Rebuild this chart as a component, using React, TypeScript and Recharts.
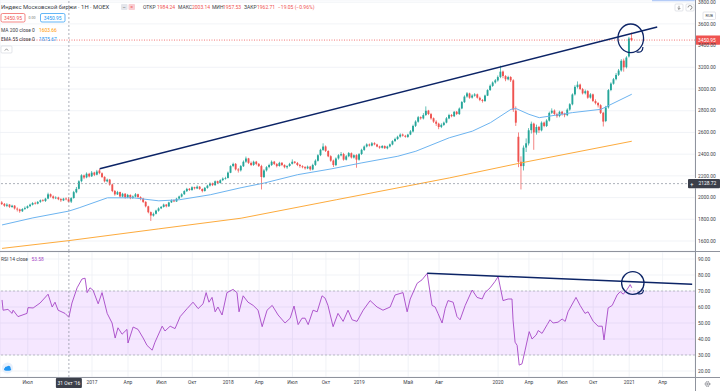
import React from 'react';
import {
  ComposedChart, Bar, Line, XAxis, YAxis, CartesianGrid,
  ReferenceLine, ReferenceArea, ReferenceDot,
} from 'recharts';

// ---------- Weekly candles, MOEX index (index 0 = week of 2 May 2016) ----------
const opens = [1955,1942,1924,1936,1913,1926,1898,1891,1874,1896,
1904,1921,1934,1951,1944,1961,1976,1969,1991,2031,
2011,1994,2001,1986,1974,1991,1984.24,1963,1996,2049,
2081,2151,2204,2186,2219,2196,2231,2211,2250,2224,
2191,2149,2166,2121,2061,2029,2051,2009,2036,2001,
2024,1996,2009,2031,2004,1991,1961,1919,1866,1834,
1851,1879,1901,1914,1936,1919,1956,1976,1964,1991,
2009,2031,2059,2081,2069,2096,2084,2101,2079,2061,
2089,2111,2131,2114,2151,2134,2161,2174,2181,2229,
2291,2311,2259,2251,2289,2331,2361,2319,2301,2331,
2311,2290,2189,2251,2281,2299,2331,2309,2291,2321,
2301,2279,2291,2311,2331,2319,2301,2289,2281,2269,
2286,2259,2301,2339,2391,2439,2471,2429,2381,2341,
2299,2361,2389,2401,2349,2381,2409,2369,2391,2349,
2401,2439,2471,2489,2479,2501,2489,2471,2459,2476,
2454,2471,2489,2521,2539,2561,2581,2569,2559,2581,
2609,2661,2699,2741,2729,2761,2801,2769,2731,2699,
2681,2651,2669,2691,2729,2761,2749,2791,2769,2821,
2879,2931,2959,2921,2939,2951,2919,2899,2889,2939,
2991,3029,3061,3079,3111,3161,3119,3089,3111,3080,
2800,2560,2330,2290,2461,2499,2621,2681,2599,2651,
2619,2691,2659,2709,2781,2801,2769,2751,2791,2771,
2759,2811,2859,2951,3019,3041,2999,2961,2981,2921,
2951,2889,2871,2851,2781,2705,2831,2991,3049,3091,
3131,3171,3262,3201,3300,3470];

const highs = [1968,1950,1948,1940,1934,1930,1910,1898,1902,1918,
1928,1944,1958,1962,1968,1982,1986,1998,2045,2038,
2020,2012,2008,1995,1998,2002,2003.14,2004,2062,2098,
2160,2215,2212,2232,2228,2245,2238,2255,2265,2232,
2196,2175,2172,2128,2070,2062,2055,2044,2040,2034,
2030,2020,2042,2036,2012,1998,1966,1925,1872,1862,
1888,1910,1922,1944,1940,1962,1984,1982,1998,2018,
2040,2068,2090,2088,2104,2100,2112,2106,2085,2098,
2118,2140,2138,2158,2156,2168,2186,2192,2240,2298,
2322,2318,2272,2300,2342,2378,2366,2332,2340,2338,
2318,2302,2262,2290,2312,2342,2338,2318,2330,2326,
2306,2298,2320,2352,2336,2328,2310,2298,2290,2295,
2292,2312,2352,2400,2450,2500,2480,2436,2390,2350,
2370,2400,2420,2412,2392,2420,2416,2398,2400,2410,
2450,2480,2500,2498,2512,2510,2496,2478,2484,2480,
2478,2498,2528,2552,2570,2592,2590,2578,2588,2622,
2672,2712,2752,2748,2778,2840,2808,2780,2738,2712,
2690,2684,2700,2742,2772,2770,2798,2798,2830,2890,
2942,2972,2966,2952,2962,2958,2930,2908,2948,2998,
3042,3070,3092,3125,3215,3170,3128,3122,3118,3090,
2840,2600,2380,2480,2545,2640,2700,2690,2672,2660,
2702,2700,2722,2792,2822,2812,2782,2800,2798,2782,
2822,2870,2960,3035,3070,3050,3010,2995,2990,2962,
2958,2905,2880,2860,2790,2845,3000,3062,3102,3148,
3185,3275,3280,3302,3480,3520];

const lows = [1932,1915,1912,1905,1906,1890,1872,1860,1868,1886,
1898,1912,1928,1936,1938,1952,1962,1960,1985,2000,
1985,1986,1976,1960,1968,1975,1957.53,1950,1990,2040,
2075,2140,2170,2178,2186,2190,2198,2205,2215,2180,
2140,2140,2110,2050,2018,2024,1998,2002,1990,1994,
1985,1988,2002,1996,1975,1950,1910,1855,1785,1825,
1845,1870,1894,1908,1910,1915,1950,1958,1960,1985,
2002,2025,2052,2062,2064,2075,2078,2072,2048,2055,
2082,2102,2106,2110,2126,2130,2152,2166,2176,2225,
2280,2250,2230,2240,2282,2320,2310,2290,2292,2298,
2282,2075,2180,2240,2270,2292,2300,2278,2285,2290,
2270,2265,2284,2305,2312,2290,2275,2270,2258,2262,
2248,2252,2292,2332,2382,2430,2420,2372,2330,2282,
2290,2350,2380,2340,2342,2372,2360,2360,2275,2340,
2392,2430,2462,2470,2472,2482,2464,2450,2452,2448,
2445,2462,2482,2512,2532,2552,2562,2552,2550,2575,
2600,2650,2690,2718,2720,2752,2760,2718,2688,2660,
2630,2640,2660,2684,2722,2740,2742,2760,2762,2814,
2872,2920,2910,2912,2930,2912,2888,2875,2882,2935,
2982,3020,3050,3068,3100,3100,3072,3080,3065,2790,
2660,2280,2075,2250,2420,2480,2590,2440,2580,2595,
2610,2648,2650,2700,2770,2760,2735,2740,2755,2740,
2750,2800,2850,2940,3005,2990,2950,2950,2910,2912,
2880,2858,2830,2770,2655,2695,2820,2980,3040,3080,
3120,3160,3160,3190,3290,3440];

const closes = [1940,1925,1935,1915,1925,1900,1890,1875,1895,1905,
1920,1935,1950,1945,1960,1975,1970,1990,2030,2010,
1995,2000,1985,1975,1990,1984,1962.71,1995,2050,2080,
2150,2205,2185,2220,2195,2230,2210,2240,2225,2190,
2150,2165,2120,2060,2030,2050,2010,2035,2000,2025,
1995,2010,2030,2005,1990,1960,1920,1865,1835,1850,
1880,1900,1915,1935,1920,1955,1975,1965,1990,2010,
2030,2060,2080,2070,2095,2085,2100,2080,2060,2090,
2110,2130,2115,2150,2135,2160,2175,2180,2230,2290,
2310,2260,2250,2290,2330,2360,2320,2300,2330,2310,
2290,2190,2250,2280,2300,2330,2310,2290,2320,2300,
2280,2290,2310,2330,2320,2300,2290,2280,2270,2285,
2260,2300,2340,2390,2440,2470,2430,2380,2340,2300,
2360,2390,2400,2350,2380,2410,2370,2390,2350,2400,
2440,2470,2490,2480,2500,2490,2470,2460,2475,2455,
2470,2490,2520,2540,2560,2580,2570,2560,2580,2610,
2660,2700,2740,2730,2760,2800,2770,2730,2700,2680,
2650,2670,2690,2730,2760,2750,2790,2770,2820,2880,
2930,2960,2920,2940,2950,2920,2900,2890,2940,2990,
3030,3060,3080,3110,3160,3120,3090,3110,3080,2810,
2690,2330,2290,2460,2500,2620,2680,2600,2650,2620,
2690,2660,2710,2780,2800,2770,2750,2790,2770,2760,
2810,2860,2950,3020,3040,3000,2960,2980,2920,2950,
2890,2870,2850,2780,2700,2830,2990,3050,3090,3130,
3170,3260,3200,3290,3465,3450.95];

// ---------- Indicator readings ----------
const emaIdx = [0,12,26,30,41,51,61,69,81,93,102,115,128,140,154,161,174,183,190,198,200,205,209,222,233,245];
const emaVals = [1748,1813,1875.67,1906,1998,1998,1970,1980,2026,2091,2134,2211,2264,2320,2381,2427,2551,2612,2690,2813,2820,2767,2736,2783,2813,2952];

const maIdx = [0,26,61,93,130,174,202,245];
const maVals = [1532,1603.66,1712,1810,1980,2181,2320,2519];

const rsiIdx = [0,0.4,2.3,3.9,4.3,6.2,9.7,10.1,12.1,14.8,
17.9,19.5,20.6,21.8,24.5,26,27.2,29.2,31.1,32.3,
33.1,34.2,35.4,37.4,38.9,40.9,42.8,44,45.1,46.7,
48.6,49,51,52.9,54.9,56.4,58.4,59.5,62.3,63.4,
65.4,67.3,69.3,72,74.3,76.3,78.2,79.4,80.5,81.7,
82.9,84,85.6,87.5,89.9,91.4,92.2,93.8,95.7,97.7,
99.6,101.2,103.1,105.1,107.4,110.1,112.1,113.6,115.2,116.7,
117.9,119.1,121,122.6,124.5,125.7,126.8,128.8,130.7,132.7,
134.6,136.2,138.1,140.5,143.2,145.9,148.2,151,152.9,156,
157.6,158.8,161.5,163.4,165.4,167.3,168.5,169.6,171.2,172.4,
173.5,175.5,177,178.2,180.2,182.9,184.8,186.8,187.9,189.9,
191.8,193,194.9,196.9,198.4,198.8,199.6,200.4,201.2,202.3,
203.5,205.1,206.2,207.8,208.6,210.1,212.1,213.2,214.4,216.3,
217.9,219.1,220.2,223.3,224.9,226.8,228,230,231.9,233.5,
234.2,235.8,237.4,239.3,240.5,241.7,243.2,244.4,245];
const rsiVals = [64.4,58,58.5,56,58,54,56,59.6,59.4,62.5,
68,60,63,58,56,53.58,62.5,72,77.5,78,
69,72,70.5,62,69,56,50,40.6,47,43,
46,37.5,47.5,46,40.6,36,33,38,48,45,
48,46.5,54,59,63,59,62,69,63,66,
57,60,55,69,71,69,57,67,63,61,
58,47.7,58,61,55,50,53,60.6,49,53,
53,49,58,57,67,65.5,61,47.7,56,51,
58,52,51,58,64,60,58,60,67.5,69,
57,65,74.8,77,81,61,60,56,50,59,
64,63,54,52,61,70.6,66,65,69,72,
76,79,64,65,65,52,38,36,23.7,24.5,
33,44.6,40,42.5,45.3,43.5,49,52,50,50.5,
52.5,51,57,66,61,56,57,51,48,48,
39.4,59.4,61,67.5,69.6,68,71,74,72];

// ---------- Axis ticks / labels ----------
const xTickIdx = [10,22,35,49,62,74,88,100,113,126,139,158,170,193,205,218,230,244,257];
const xTickLabels = ['Июл','','2017','Апр','Июл','Окт','2018','Апр','Июл','Окт','2019','Май','Авг','2020','Апр','Июл','Окт','2021','Апр'];
const priceTicks = [1600,1800,2000,2200,2400,2600,2800,3000,3200,3400,3600,3800];
const rsiTicks = [20,30,40,50,60,70,80,90];

// ---------- Annotations ----------
const lastPrice = 3450.95;
const crossIdx = 26;
const crossPrice = 2128.72;
const crossLabel = "31 Окт '16";
const priceTrend = [{ x: 38, y: 2265 }, { x: 254.9, y: 3571 }];
const rsiTrend = [{ x: 165.4, y: 81.1 }, { x: 268.5, y: 74.2 }];
const priceCircle = { x: 244.6, y: 3467 };
const rsiCircle = { x: 245.4, y: 75 };

// ---------- Layout constants ----------
const X_MIN = -0.8, X_MAX = 269.6;
const P_MIN = 1508, P_MAX = 3820;
const R_MIN = 16.25, R_MAX = 94.375;

const FONT = 'Roboto, "Noto Sans", sans-serif';
const GREEN = '#26a69a';
const RED = '#ef5350';
const NAVY = '#0c2466';
const GRID = '#edf0f5';
const AXIS = '#8f939d';
const TXT = '#3b3e48';
const CROSS = '#8a8f9c';
const ORANGE = '#fdab3d';
const EMA_BLUE = '#6db4f0';
const RSI_COL = '#a646c6';

const candles = closes.map((c, i) => ({ i, o: opens[i], h: highs[i], l: lows[i], c, range: [lows[i], highs[i]] }));
const emaData = emaIdx.map((i, k) => ({ i, v: emaVals[k] }));
const maData = maIdx.map((i, k) => ({ i, v: maVals[k] }));
const rsiData = rsiIdx.map((i, k) => ({ i, v: rsiVals[k] }));

const Candle = (props: any) => {
  const { x, y, width, height, payload } = props;
  if (!payload || x == null || y == null) return null;
  const { o, h, l, c } = payload;
  const top = Math.min(y, y + height);
  const hh = Math.abs(height);
  const k = h - l === 0 ? 0 : hh / (h - l);
  const yO = top + (h - o) * k;
  const yC = top + (h - c) * k;
  const cx = x + width / 2;
  const col = c >= o ? GREEN : RED;
  const bt = Math.min(yO, yC);
  const bh = Math.max(0.7, Math.abs(yO - yC));
  return (
    <g>
      <rect x={cx - 0.35} y={top} width={0.7} height={hh} fill={col} />
      <rect x={cx - 0.95} y={bt} width={1.9} height={bh} fill={col} />
    </g>
  );
};

const AxisTick = (props: any) => {
  const { x, y, payload } = props;
  return (
    <text x={x} y={y} dy={1.7} fontSize={4.9} fill={TXT} fontFamily={FONT} textAnchor="start">
      {Number(payload.value).toFixed(2)}
    </text>
  );
};

const XTick = (props: any) => {
  const { x, y, payload } = props;
  const k = xTickIdx.indexOf(payload.value);
  const label = k >= 0 ? xTickLabels[k] : '';
  return (
    <text x={x} y={y} dy={6.8} fontSize={4.9} fill={TXT} fontFamily={FONT} textAnchor="middle">{label}</text>
  );
};

const PriceLabel = (p: any) => {
  const vb = p.viewBox || p;
  const right = vb.x + vb.width;
  return (
    <g>
      <rect x={right + 0.5} y={vb.y - 4.6} width={25} height={9.2} fill={RED} rx={1} />
      <text x={right + 3} y={vb.y} dy={1.8} fontSize={4.9} fill="#fff" fontFamily={FONT}>{lastPrice.toFixed(2)}</text>
    </g>
  );
};

const CrossPriceLabel = (p: any) => {
  const vb = p.viewBox || p;
  const right = vb.x + vb.width;
  return (
    <g>
      <rect x={right - 7} y={vb.y - 4.6} width={32} height={9.2} fill="#3b3f4a" rx={1} />
      <text x={right - 4.8} y={vb.y} dy={1.9} fontSize={5.5} fill="#fff" fontFamily={FONT}>+</text>
      <text x={right + 3.5} y={vb.y} dy={1.8} fontSize={4.9} fill="#fff" fontFamily={FONT}>{crossPrice.toFixed(2)}</text>
    </g>
  );
};

const CrossDateLabel = (p: any) => {
  const vb = p.viewBox || p;
  const cx = vb.x;
  const by = vb.y + vb.height;
  return (
    <g>
      <rect x={cx - 13} y={by + 1} width={26} height={10} fill="#3b3f4a" rx={1} />
      <text x={cx} y={by + 7.5} textAnchor="middle" fontSize={4.9} fill="#fff" fontFamily={FONT}>{crossLabel}</text>
    </g>
  );
};

const HandCircle = (rx: number, ry: number) => (p: any) => {
  const { cx, cy } = p;
  if (cx == null || cy == null) return null;
  return (
    <g>
      <ellipse cx={cx} cy={cy} rx={rx} ry={ry} fill="none" stroke={NAVY} strokeWidth={1.3} />
      <path d={`M ${cx + rx * 0.45} ${cy + ry * 0.95} q ${rx * 0.5} ${ry * 0.1} ${rx * 0.5} ${-ry * 0.35}`} fill="none" stroke={NAVY} strokeWidth={1.2} />
    </g>
  );
};

const Chrome = () => (
  <svg width={720} height={391} style={{ position: 'absolute', left: 0, top: 0 }}>
    <rect x={0} y={0} width={720} height={391} fill="#fff" />
    <rect x={652} y={0} width={43} height={1.2} fill="#90b4f8" />
  </svg>
);

const Front = () => (
  <svg width={720} height={391} style={{ position: 'absolute', left: 0, top: 0, pointerEvents: 'none' }} fontFamily={FONT}>
    <line x1={0} x2={720} y1={251.5} y2={251.5} stroke={AXIS} strokeWidth={1} />
    <line x1={0} x2={720} y1={377.5} y2={377.5} stroke={AXIS} strokeWidth={1} />
    <line x1={695.5} x2={695.5} y1={0} y2={178} stroke={AXIS} strokeWidth={1} />
    <line x1={695.5} x2={695.5} y1={188} y2={391} stroke={AXIS} strokeWidth={1} />

    {/* title + OHLC */}
    <text x={1} y={8.6} fontSize={5.9} fill={TXT}>Индекс Московской биржи · 1Н · MOEX</text>
    <rect x={121} y={4} width={6.5} height={6} rx={1} fill="#e4e6ec" />
    <rect x={128.5} y={4} width={6.5} height={6} rx={1} fill="#f9cdd2" />
    <text x={124.2} y={8.6} fontSize={5} fill="#666" textAnchor="middle">–</text>
    <text x={131.7} y={8.8} fontSize={5} fill={RED} textAnchor="middle">=</text>
    <text y={8.6} fontSize={5} fill={TXT}>
      <tspan x={143}>ОТКР</tspan>
      <tspan x={157} fill={RED}>1984.24</tspan>
      <tspan x={178}>МАКС</tspan>
      <tspan x={192} fill={RED}>2003.14</tspan>
      <tspan x={212}>МИН</tspan>
      <tspan x={223} fill={RED}>1957.53</tspan>
      <tspan x={244}>ЗАКР</tspan>
      <tspan x={257} fill={RED}>1962.71</tspan>
      <tspan x={278} fill={RED}>−19.05 (−0.96%)</tspan>
    </text>

    {/* price boxes */}
    <rect x={1} y={13.5} width={24} height={8.5} rx={1.5} fill="#fff" stroke={RED} strokeWidth={0.7} />
    <text x={13} y={19.6} fontSize={4.9} fill={RED} textAnchor="middle">3450.95</text>
    <text x={28.5} y={19.3} fontSize={3.6} fill="#777">0.00</text>
    <rect x={40.5} y={13.5} width={24.5} height={8.5} rx={1.5} fill="#fff" stroke="#2196f3" strokeWidth={0.7} />
    <text x={52.7} y={19.6} fontSize={4.9} fill="#2196f3" textAnchor="middle">3450.95</text>

    {/* indicator legends */}
    <text x={1} y={31.6} fontSize={4.9} fill={TXT}>MA 200 close 0</text>
    <text x={39} y={31.6} fontSize={4.9} fill="#ff9800">1603.66</text>
    <text x={1} y={40.8} fontSize={4.9} fill={TXT}>EMA 55 close 0</text>
    <text x={39} y={40.8} fontSize={4.9} fill="#2196f3">1875.67</text>
    <rect x={1} y={46} width={11} height={7} rx={1} fill="#fff" stroke="#d1d4dc" strokeWidth={0.6} />
    <path d="M 4.8 50.6 L 6.5 48.8 L 8.2 50.6" fill="none" stroke="#555" strokeWidth={0.6} />

    <text x={1} y={261} fontSize={4.9} fill={TXT}>RSI 14 close</text>
    <text x={31.5} y={261} fontSize={4.9} fill={RSI_COL}>53.58</text>

    {/* top-right controls */}
    <rect x={675} y={4} width={8} height={7} rx={1} fill="#fff" stroke="#d1d4dc" strokeWidth={0.6} />
    <path d="M 679 5.8 L 679 9.4 M 677.6 8 L 679 9.4 L 680.4 8" fill="none" stroke="#555" strokeWidth={0.6} />
    <rect x={686} y={4} width={8} height={7} rx={1} fill="#fff" stroke="#d1d4dc" strokeWidth={0.6} />
    <path d="M 688 7.5 A 2 2 0 1 1 690 9.5" fill="none" stroke="#555" strokeWidth={0.6} />
    <rect x={703} y={12} width={12.5} height={7.5} rx={1} fill="#fff" stroke="#d1d4dc" strokeWidth={0.6} />
    <text x={709.2} y={17.4} fontSize={3.9} fill={TXT} textAnchor="middle">RUB</text>

    {/* cloud & gear */}
    <circle cx={7.5} cy={368} r={5.5} fill="#e7f0fc" />
    <ellipse cx={7.6} cy={369.2} rx={3.6} ry={1.5} fill="#2196f3" />
    <circle cx={6.4} cy={368.2} r={1.6} fill="#2196f3" />
    <circle cx={8.6} cy={367.6} r={1.9} fill="#2196f3" />
    <circle cx={707.5} cy={384} r={2.3} fill="none" stroke="#50535e" strokeWidth={0.9} strokeDasharray="1.1 0.6" />
    <circle cx={707.5} cy={384} r={0.8} fill="none" stroke="#50535e" strokeWidth={0.6} />
  </svg>
);

export default function App() {
  return (
    <div style={{ position: 'absolute', left: 0, top: 0, width: 720, height: 391, overflow: 'hidden', background: '#fff', fontFamily: FONT }}>
      <Chrome />
      <div style={{ position: 'absolute', left: 0, top: 0 }}>
        <ComposedChart width={720} height={251} data={candles} margin={{ top: 0, right: 0, bottom: 0, left: 0 }}>
          <CartesianGrid stroke={GRID} strokeWidth={0.8} />
          <XAxis dataKey="i" type="number" domain={[X_MIN, X_MAX]} allowDataOverflow ticks={xTickIdx} interval={0}
            height={0} tick={false} axisLine={false} tickLine={false} />
          <YAxis orientation="right" width={25} domain={[P_MIN, P_MAX]} allowDataOverflow ticks={priceTicks} interval={0}
            axisLine={false} tickLine={false} tickSize={0} tickMargin={3} tick={<AxisTick />} />
          <Line data={maData} dataKey="v" stroke={ORANGE} strokeWidth={1} dot={false} activeDot={false} isAnimationActive={false} />
          <Line data={emaData} dataKey="v" stroke={EMA_BLUE} strokeWidth={1} dot={false} activeDot={false} isAnimationActive={false} />
          <Bar dataKey="range" barSize={2} shape={Candle} activeBar={false} isAnimationActive={false} />
          <ReferenceLine y={lastPrice} stroke={RED} strokeDasharray="1 1.5" strokeWidth={0.8} label={PriceLabel} />
          <ReferenceLine x={crossIdx} stroke={CROSS} strokeDasharray="2 2" strokeWidth={0.7} />
          <ReferenceLine y={crossPrice} stroke={CROSS} strokeDasharray="2 2" strokeWidth={0.7} label={CrossPriceLabel} />
          <ReferenceLine segment={priceTrend} stroke={NAVY} strokeWidth={1.5} />
          <ReferenceDot x={priceCircle.x} y={priceCircle.y} r={13} shape={HandCircle(12.8, 14.3)} />
        </ComposedChart>
      </div>
      <div style={{ position: 'absolute', left: 0, top: 252 }}>
        <ComposedChart width={720} height={139} data={rsiData} margin={{ top: 0, right: 0, bottom: 0, left: 0 }}>
          <CartesianGrid stroke={GRID} strokeWidth={0.8} />
          <ReferenceArea y1={30} y2={70} fill="#9915ff" fillOpacity={0.1} stroke="none" />
          <ReferenceLine y={70} stroke="#a6a9b2" strokeDasharray="2 2" strokeWidth={0.7} />
          <ReferenceLine y={30} stroke="#a6a9b2" strokeDasharray="2 2" strokeWidth={0.7} />
          <XAxis dataKey="i" type="number" domain={[X_MIN, X_MAX]} allowDataOverflow ticks={xTickIdx} interval={0}
            height={14} axisLine={false} tickLine={false} tickSize={0} tickMargin={0} tick={<XTick />} />
          <YAxis orientation="right" width={25} domain={[R_MIN, R_MAX]} allowDataOverflow ticks={rsiTicks} interval={0}
            axisLine={false} tickLine={false} tickSize={0} tickMargin={3} tick={<AxisTick />} />
          <Line dataKey="v" stroke={RSI_COL} strokeWidth={0.9} dot={false} activeDot={false} isAnimationActive={false} />
          <ReferenceLine x={crossIdx} stroke={CROSS} strokeDasharray="2 2" strokeWidth={0.7} label={CrossDateLabel} />
          <ReferenceLine segment={rsiTrend} stroke={NAVY} strokeWidth={1.5} />
          <ReferenceDot x={rsiCircle.x} y={rsiCircle.y} r={11} shape={HandCircle(11.2, 11.3)} />
        </ComposedChart>
      </div>
      <Front />
    </div>
  );
}
